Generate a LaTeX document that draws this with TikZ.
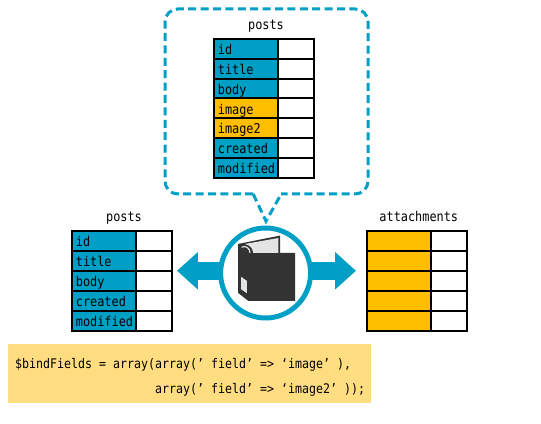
\documentclass[tikz,border=0pt]{standalone}
\usepackage{fontspec}
\setmonofont[FakeStretch=0.88]{DejaVu Sans Mono}
\usepackage{tikz}
\usetikzlibrary{positioning, arrows.meta}
\definecolor{ink}{RGB}{0,0,0}
\definecolor{lagoon}{RGB}{0,160,198}
\definecolor{amber}{RGB}{255,190,0}
\definecolor{butter}{RGB}{255,221,128}
\definecolor{binder}{RGB}{51,51,51}
\definecolor{leaf}{RGB}{228,228,228}
\tikzset{
  fieldc/.style={draw=ink,line width=0.05cm,outer sep=0pt,minimum width=1.6cm,minimum height=0.5cm,inner sep=0pt,anchor=north west},
  valc/.style={draw=ink,line width=0.05cm,outer sep=0pt,fill=white,minimum width=0.9cm,minimum height=0.5cm,inner sep=0pt,anchor=north west},
  fieldname/.style={anchor=base west,inner sep=0pt,font=\ttfamily\fontsize{9.6}{11}\selectfont,text=ink},
  title/.style={anchor=base,inner sep=0pt,font=\ttfamily\fontsize{9.6}{11}\selectfont,text=ink},
  code/.style={font=\ttfamily\fontsize{9.4}{11}\selectfont,text=ink,anchor=base west,inner sep=0pt},
  bigarrow/.style={lagoon,line width=0.44cm,-{Triangle[width=0.9cm,length=0.52cm]}},
}
\begin{document}
\begin{tikzpicture}
  \useasboundingbox (0,0) rectangle (13.525,10.6);
  % callout
  \coordinate (tip) at (6.65,5.07);
  \draw[lagoon,line width=0.075cm,dash pattern=on 0.2cm off 0.11cm,rounded corners=0.32cm]
    (6.33,5.75) -- (4.125,5.75) -- (4.125,10.375) -- (9.2,10.375) -- (9.2,5.75) -- (7.03,5.75);
  \draw[lagoon,line width=0.075cm,dash pattern=on 0.2cm off 0.11cm] (6.33,5.75) -- (tip) -- (7.03,5.75);
  % top table
  \node[title] (toptitle) at (6.65,9.85) {posts};
  \foreach \name/\tint [count=\i from 0] in {id/lagoon,title/lagoon,body/lagoon,image/amber,image2/amber,created/lagoon,modified/lagoon}{
    \node[fieldc,fill=\tint,minimum height=0.494cm] (top\i) at (5.36,{9.62-0.494*\i}) {};
    \node[valc,minimum height=0.494cm] (topv\i) at (top\i.north east) {};
    \node[fieldname] (topn\i) at ([xshift=0.08cm,yshift=-0.39cm]top\i.north west) {\name};
  }
  % left table
  \node[title] (lefttitle) at (3.1,5.05) {posts};
  \foreach \name [count=\i from 0] in {id,title,body,created,modified}{
    \node[fieldc,fill=lagoon] (left\i) at (1.81,{4.82-0.5*\i}) {};
    \node[valc] (leftv\i) at (left\i.north east) {};
    \node[fieldname] (leftn\i) at ([xshift=0.08cm,yshift=-0.39cm]left\i.north west) {\name};
  }
  % right table
  \node[title] (righttitle) at (10.47,5.05) {attachments};
  \foreach \i in {0,...,4}{
    \node[fieldc,fill=amber] (right\i) at (9.18,{4.82-0.5*\i}) {};
    \node[valc] (rightv\i) at (right\i.north east) {};
  }
  % hub
  \coordinate (lefttip) at (4.425,3.83);
  \coordinate (righttip) at (8.9,3.83);
  \coordinate (hubc) at (6.64,3.83);
  \draw[bigarrow] (hubc) -- (lefttip);
  \draw[bigarrow] (hubc) -- (righttip);
  \node[circle,draw=lagoon,fill=white,line width=0.125cm,outer sep=0pt,minimum size=2.25cm,inner sep=0pt] (hub) at (6.64,3.775) {};
  % binder
  \fill[binder] (5.95,4.5) -- (7,4.71) -- (7,4.28) -- (7.375,4.28) -- (7.375,3.075) -- (6.21,3.075) -- (5.95,3.28) -- cycle;
  \fill[leaf] (6.12,4.5) -- (6.96,4.65) -- (6.96,4.28) -- (6.33,4.28) .. controls (6.32,4.4) and (6.25,4.47) .. cycle;
  \draw[leaf,line width=0.03cm] (6.04,4.42) .. controls (6.15,4.47) and (6.24,4.4) .. (6.25,4.28);
  \fill[leaf] (6.025,3.68) -- (6.17,3.58) -- (6.17,3.27) -- (6.025,3.37) -- cycle;
  % code
  \node[fill=butter,minimum width=9.075cm,minimum height=1.475cm,inner sep=0pt,anchor=north west] (codebox) at (0.2,2) {};
  \node[code] (line1) at (0.37,1.38) {\$bindFields = array(array(’ field’ => ‘image’ ),};
  \node[code] (line2) at (3.87,0.77) {array(’ field’ => ‘image2’ ));};
\end{tikzpicture}
\end{document}
